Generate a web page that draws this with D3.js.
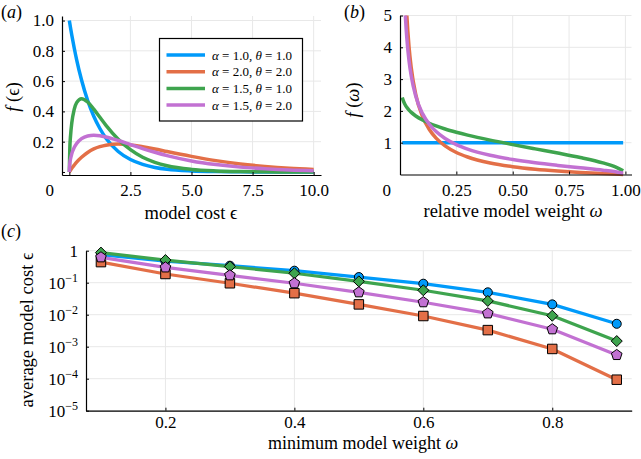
<!DOCTYPE html>
<html><head><meta charset="utf-8">
<script src="https://cdn.jsdelivr.net/npm/d3@7"></script>
<style>
body{margin:0;background:#fff}
svg{display:block}
text{font-family:"Liberation Serif","Times New Roman",serif;fill:#000}
</style>
</head><body>
<svg id="chart" width="641" height="459"></svg>
<script>
// ---------- data ----------
// panel (a): densities f(eps)
const epsX      = [0, 0.02, 0.05, 0.1, 0.2, 0.3, 0.5, 0.75, 1, 1.25, 1.5, 2, 2.5, 3, 3.5, 4, 5, 6, 7, 8, 9, 10];
const fEpsBlue  = [1, 0.980, 0.951, 0.905, 0.819, 0.741, 0.607, 0.472, 0.368, 0.287, 0.223, 0.135, 0.082, 0.050, 0.030, 0.018, 0.007, 0.0025, 0.0009, 0.0003, 0.0001, 0.00005];
const fEpsOrange= [0, 0.005, 0.012, 0.024, 0.045, 0.065, 0.097, 0.129, 0.152, 0.167, 0.177, 0.184, 0.179, 0.167, 0.152, 0.135, 0.103, 0.075, 0.053, 0.037, 0.025, 0.017];
const fEpsGreen = [0, 0.156, 0.240, 0.323, 0.413, 0.458, 0.484, 0.462, 0.415, 0.361, 0.308, 0.216, 0.147, 0.097, 0.064, 0.041, 0.017, 0.007, 0.0027, 0.0011, 0.0004, 0.0002];
const fEpsPurple= [0, 0.056, 0.087, 0.120, 0.161, 0.188, 0.220, 0.238, 0.242, 0.239, 0.231, 0.208, 0.181, 0.154, 0.130, 0.108, 0.073, 0.049, 0.032, 0.021, 0.013, 0.0085];

// panel (b): densities f(omega)
const omegaX      = [0.01, 0.015, 0.02, 0.025, 0.03, 0.04, 0.05, 0.07, 0.1, 0.13, 0.16, 0.2, 0.25, 0.3, 0.4, 0.5, 0.6, 0.7, 0.8, 0.9, 0.95, 0.99];
const fOmBlue     = [1, 1, 1, 1, 1, 1, 1, 1, 1, 1, 1, 1, 1, 1, 1, 1, 1, 1, 1, 1, 1, 1];
const fOmOrange   = [11.51, 8.57, 6.915, 5.832, 5.061, 4.024, 3.349, 2.513, 1.820, 1.415, 1.145, 0.900, 0.693, 0.550, 0.362, 0.245, 0.165, 0.107, 0.062, 0.028, 0.013, 0.003];
const fOmGreen    = [2.422, 2.312, 2.232, 2.167, 2.113, 2.024, 1.953, 1.840, 1.712, 1.612, 1.528, 1.431, 1.329, 1.238, 1.080, 0.940, 0.806, 0.674, 0.533, 0.366, 0.256, 0.113];
const fOmPurple   = [8.561, 6.675, 5.580, 4.847, 4.313, 3.579, 3.088, 2.459, 1.914, 1.580, 1.350, 1.132, 0.939, 0.799, 0.604, 0.470, 0.368, 0.285, 0.211, 0.137, 0.093, 0.040];

// panel (c): average model cost vs minimum model weight
const minWeight   = [0.1, 0.2, 0.3, 0.4, 0.5, 0.6, 0.7, 0.8, 0.9];
const costBlue    = [0.75, 0.47, 0.34, 0.237, 0.15, 0.093, 0.05, 0.021, 0.0052];
const costOrange  = [0.44, 0.187, 0.096, 0.047, 0.021, 0.0091, 0.0033, 0.00085, 0.000093];
const costGreen   = [0.87, 0.51, 0.32, 0.197, 0.11, 0.058, 0.027, 0.0093, 0.0015];
const costPurple  = [0.62, 0.30, 0.17, 0.096, 0.05, 0.0245, 0.011, 0.0035, 0.00055];

// legend parameters
const alphas = ["1.0", "2.0", "1.5", "1.5"];
const thetas = ["1.0", "2.0", "1.0", "2.0"];

// tick values
const ticksAx = [2.5, 5.0, 7.5, 10.0];
const ticksAy = [0.2, 0.4, 0.6, 0.8, 1.0];
const ticksBx = [0.25, 0.50, 0.75, 1.00];
const ticksBy = [1, 2, 3, 4, 5];
const ticksCx = [0.2, 0.4, 0.6, 0.8];
const ticksCy = [1, 1e-1, 1e-2, 1e-3, 1e-4, 1e-5];

// ---------- style ----------
const colors = ["#009AFA", "#E36F47", "#3EA44E", "#C271D2"];
const gridColor = "#e8e8e8";
const tickFont = 17, labelFont = 18.5;
const serif = '"Liberation Serif","Times New Roman",serif';

const svg = d3.select("#chart");

function panel(cfg) {
  const g = svg.append("g");
  const {x, y, xt, yt} = cfg;
  const [x0, x1] = x.range(), [y0, y1] = y.range();
  g.selectAll(".gx").data(xt).join("line")
    .attr("x1", d => x(d)).attr("x2", d => x(d)).attr("y1", y0).attr("y2", y1)
    .attr("stroke", gridColor).attr("stroke-width", 1);
  g.selectAll(".gy").data(yt).join("line")
    .attr("y1", d => y(d)).attr("y2", d => y(d)).attr("x1", x0).attr("x2", x1)
    .attr("stroke", gridColor).attr("stroke-width", 1);
  return g;
}

function axes(g, cfg) {
  const {x, y, xt, yt, xfmt, yfmt, yExtra, xExtra, xPad} = cfg;
  const [x0, x1] = x.range(), [y0, y1] = y.range();
  const xa = g.append("g").attr("transform", `translate(0,${y0})`)
    .call(d3.axisBottom(x).tickValues(xExtra ? xt.concat(xExtra) : xt).tickSize(-3)
      .tickPadding(xPad != null ? xPad : 9).tickFormat(xfmt).tickSizeOuter(0));
  const ya = g.append("g").attr("transform", `translate(${x0},0)`)
    .call(d3.axisLeft(y).tickValues(yExtra ? yt.concat(yExtra) : yt).tickSize(-3).tickPadding(8).tickFormat(yfmt).tickSizeOuter(0));
  [xa, ya].forEach(a => {
    a.attr("font-family", serif);
    a.select(".domain").attr("stroke", "#000").attr("stroke-width", 1.2);
    a.selectAll(".tick line").attr("stroke", "#000").attr("stroke-width", 1);
    a.selectAll("text").attr("font-size", tickFont).style("font-family", serif).attr("fill", "#000");
  });
  return {xa, ya};
}

// ---------- panel (a) ----------
const xA = d3.scaleLinear().domain([-0.3, 10.3]).range([62, 321]);
const yA = d3.scaleLinear().domain([-0.02, 1.03]).range([175, 16]);
const cfgA = {x: xA, y: yA, xt: ticksAx, yt: ticksAy,
  xfmt: d => d === 0 ? "" : d3.format(".1f")(d),
  yfmt: d => d === 0 ? "" : d3.format(".1f")(d), yExtra: [0], xExtra: [0]};
const gA = panel(cfgA);
const lineA = d3.line().x(d => xA(d[0])).y(d => yA(d[1])).curve(d3.curveMonotoneX);
[fEpsBlue, fEpsOrange, fEpsGreen, fEpsPurple].forEach((s, i) => {
  gA.append("path").datum(epsX.map((e, j) => [e, s[j]]))
    .attr("d", lineA).attr("fill", "none").attr("stroke", colors[i]).attr("stroke-width", 3.5)
    .attr("stroke-linejoin", "round");
});
axes(gA, cfgA);
svg.append("text").attr("x", 54).attr("y", 196).attr("text-anchor", "end").attr("font-size", tickFont).text("0");
svg.append("text").attr("x", 191).attr("y", 219).attr("text-anchor", "middle").attr("font-size", labelFont).text("model cost ϵ");
{
  const t = svg.append("text").attr("transform", "translate(19,97) rotate(-90)").attr("text-anchor", "middle").attr("font-size", labelFont);
  t.append("tspan").attr("font-style", "italic").text("f");
  t.append("tspan").text(" (ϵ)");
}
{
  const t = svg.append("text").attr("x", 1).attr("y", 18).attr("font-size", 18);
  t.append("tspan").text("(");
  t.append("tspan").attr("font-style", "italic").text("a");
  t.append("tspan").text(")");
}
// legend
{
  const lg = svg.append("g");
  lg.append("rect").attr("x", 159.5).attr("y", 38.5).attr("width", 143).attr("height", 82.5)
    .attr("fill", "#fff").attr("stroke", "#000").attr("stroke-width", 1.2);
  alphas.forEach((a, i) => {
    const yy = 55 + i * 16.7;
    lg.append("line").attr("x1", 166.5).attr("x2", 205).attr("y1", yy).attr("y2", yy)
      .attr("stroke", colors[i]).attr("stroke-width", 3.5);
    const t = lg.append("text").attr("x", 212).attr("y", yy + 4.5).attr("font-size", 13);
    t.append("tspan").attr("font-style", "italic").text("α");
    t.append("tspan").text(` = ${a}, `);
    t.append("tspan").attr("font-style", "italic").text("θ");
    t.append("tspan").text(` = ${thetas[i]}`);
  });
}

// ---------- panel (b) ----------
const xB = d3.scaleLinear().domain([0, 1.027]).range([400, 631.5]);
const yB = d3.scaleLinear().domain([0, 5]).range([174.5, 15.5]);
const cfgB = {x: xB, y: yB, xt: ticksBx, yt: ticksBy, xfmt: d => d3.format(".2f")(d), yfmt: d => d3.format("d")(d)};
const gB = panel(cfgB);
svg.append("clipPath").attr("id", "clipB").append("rect").attr("x", 398).attr("y", 15.5).attr("width", 240).attr("height", 162);
const lineB = d3.line().x(d => xB(d[0])).y(d => yB(d[1])).curve(d3.curveMonotoneX);
const gBl = gB.append("g").attr("clip-path", "url(#clipB)");
[fOmBlue, fOmOrange, fOmGreen, fOmPurple].forEach((s, i) => {
  gBl.append("path").datum(omegaX.map((e, j) => [e, s[j]]))
    .attr("d", lineB).attr("fill", "none").attr("stroke", colors[i]).attr("stroke-width", 3.5)
    .attr("stroke-linejoin", "round");
});
axes(gB, cfgB);
svg.append("text").attr("x", 391).attr("y", 196).attr("text-anchor", "end").attr("font-size", tickFont).text("0");
{
  const t = svg.append("text").attr("x", 513).attr("y", 217).attr("text-anchor", "middle").attr("font-size", labelFont);
  t.append("tspan").text("relative model weight ");
  t.append("tspan").attr("font-style", "italic").text("ω");
}
{
  const t = svg.append("text").attr("transform", "translate(359,100) rotate(-90)").attr("text-anchor", "middle").attr("font-size", labelFont);
  t.append("tspan").attr("font-style", "italic").text("f");
  t.append("tspan").text(" (");
  t.append("tspan").attr("font-style", "italic").text("ω");
  t.append("tspan").text(")");
}
{
  const t = svg.append("text").attr("x", 344).attr("y", 18).attr("font-size", 18);
  t.append("tspan").text("(");
  t.append("tspan").attr("font-style", "italic").text("b");
  t.append("tspan").text(")");
}

// ---------- panel (c) ----------
const xC = d3.scaleLinear().domain([0.0768, 0.9232]).range([86, 631.7]);
const yC = d3.scaleLog().domain([1e-5, 1]).range([410.7, 250.7]);
const cfgC = {x: xC, y: yC, xt: ticksCx, yt: ticksCy, xfmt: d => d3.format(".1f")(d), yfmt: () => "", xPad: 5.5};
const gC = panel(cfgC);
const lineC = d3.line().x(d => xC(d[0])).y(d => yC(d[1]));
const sq = {draw(c, s){ const h = Math.sqrt(s) / 2; c.rect(-h, -h, 2*h, 2*h); }};
const dia = {draw(c, s){ const h = Math.sqrt(s) / 2 * 1.3; c.moveTo(0,-h); c.lineTo(h,0); c.lineTo(0,h); c.lineTo(-h,0); c.closePath(); }};
const pent = {draw(c, s){ const r = Math.sqrt(s) / 1.6; for (let k = 0; k < 5; k++){ const a = -Math.PI/2 + k*2*Math.PI/5; const px = r*Math.cos(a), py = r*Math.sin(a); k ? c.lineTo(px,py) : c.moveTo(px,py);} c.closePath(); }};
const symTypes = [d3.symbolCircle, sq, dia, pent];
const symSizes = [64, 90, 72, 80];
[costBlue, costOrange, costGreen, costPurple].forEach((s, i) => {
  const pts = minWeight.map((w, j) => [w, s[j]]);
  gC.append("path").datum(pts).attr("d", lineC).attr("fill", "none")
    .attr("stroke", colors[i]).attr("stroke-width", 3.2).attr("stroke-linejoin", "round");
  gC.selectAll(null).data(pts).join("path")
    .attr("transform", d => `translate(${xC(d[0])},${yC(d[1])})`)
    .attr("d", d3.symbol().type(symTypes[i]).size(symSizes[i]))
    .attr("fill", colors[i]).attr("stroke", "#000").attr("stroke-width", 1);
});
const axC = axes(gC, cfgC);
axC.ya.selectAll(".tick").each(function(d) {
  const e = Math.round(Math.log10(d));
  const t = d3.select(this).append("text").attr("x", -8).attr("y", 0).attr("dy", "0.32em")
    .attr("text-anchor", "end").attr("font-size", tickFont).style("font-family", serif).attr("fill", "#000");
  if (e === 0) { t.text("1"); }
  else {
    t.append("tspan").text("10");
    t.append("tspan").attr("font-size", 12).attr("dy", "-0.55em").text("−" + Math.abs(e));
  }
});
{
  const t = svg.append("text").attr("x", 363).attr("y", 448.5).attr("text-anchor", "middle").attr("font-size", 18);
  t.append("tspan").text("minimum model weight ");
  t.append("tspan").attr("font-style", "italic").text("ω");
}
svg.append("text").attr("transform", "translate(33,330) rotate(-90)").attr("text-anchor", "middle")
  .attr("font-size", labelFont).text("average model cost ϵ");
{
  const t = svg.append("text").attr("x", 1).attr("y", 237).attr("font-size", 18);
  t.append("tspan").text("(");
  t.append("tspan").attr("font-style", "italic").text("c");
  t.append("tspan").text(")");
}
</script>
</body></html>
